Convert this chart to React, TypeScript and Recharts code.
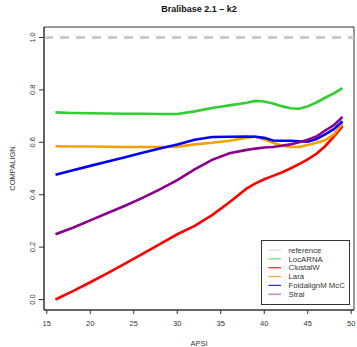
import React from "react";
import {
  Label,
  Line,
  LineChart,
  ReferenceArea,
  ReferenceLine,
  XAxis,
  YAxis,
} from "recharts";

const APSI = [16, 18, 20, 22, 24, 26, 28, 30, 32, 34, 36, 38, 39, 40, 41, 42, 43, 44, 45, 46, 47, 48, 49];

const LOCARNA = [0.714, 0.712, 0.711, 0.71, 0.709, 0.709, 0.708, 0.708, 0.718, 0.731, 0.741, 0.751, 0.758, 0.756, 0.748, 0.738, 0.73, 0.728, 0.737, 0.752, 0.77, 0.787, 0.807];
const CLUSTALW = [0.0, 0.032, 0.066, 0.101, 0.137, 0.174, 0.211, 0.249, 0.281, 0.322, 0.371, 0.424, 0.443, 0.459, 0.472, 0.485, 0.5, 0.517, 0.535, 0.556, 0.585, 0.622, 0.662];
const LARA = [0.585, 0.584, 0.584, 0.583, 0.582, 0.582, 0.582, 0.583, 0.592, 0.598, 0.606, 0.617, 0.622, 0.611, 0.598, 0.588, 0.582, 0.582, 0.59, 0.598, 0.608, 0.63, 0.672];
const FOLDALIGN = [0.476, 0.493, 0.51, 0.527, 0.543, 0.56, 0.576, 0.592, 0.61, 0.62, 0.621, 0.622, 0.621, 0.617, 0.607, 0.606, 0.606, 0.604, 0.602, 0.612, 0.63, 0.65, 0.68];
const STRAL = [0.249, 0.274, 0.302, 0.33, 0.358, 0.388, 0.42, 0.456, 0.497, 0.533, 0.558, 0.571, 0.576, 0.58, 0.582, 0.587, 0.592, 0.6, 0.61, 0.622, 0.645, 0.665, 0.697];

const X_TICKS = [15, 20, 25, 30, 35, 40, 45, 50];
const Y_TICKS = [0, 0.2, 0.4, 0.6, 0.8, 1.0];

const SERIES = [
  { key: "LocARNA", values: LOCARNA, color: "#33cc33" },
  { key: "ClustalW", values: CLUSTALW, color: "#ff0000" },
  { key: "Lara", values: LARA, color: "#f5a000" },
  { key: "FoldalignM McC", values: FOLDALIGN, color: "#0000ff" },
  { key: "Stral", values: STRAL, color: "#8b008b" },
];

const LEGEND_NAMES = ["reference", "LocARNA", "ClustalW", "Lara", "FoldalignM McC", "Stral"];
const LEGEND_COLORS = ["#d8d8d8", "#70dc70", "#ff3030", "#f2a830", "#3030ff", "#c078c8"];

// R-style 4% padding around the data range
const X_DOM: [number, number] = [14.68, 50.32];
const Y_DOM: [number, number] = [-0.04, 1.04];

const FONT = "'Liberation Sans', Arial, sans-serif";
const INK = "#333";

const data = APSI.map((x, i) => {
  const row: Record<string, number> = { apsi: x };
  SERIES.forEach((s) => (row[s.key] = s.values[i]));
  return row;
});

const YTick = (props: any) => {
  const { y, payload } = props;
  return (
    <text
      x={35}
      y={y}
      transform={`rotate(-90, 35, ${y})`}
      textAnchor="middle"
      fontSize={7.5}
      fill={INK}
    >
      {Number(payload.value).toFixed(1)}
    </text>
  );
};

const LegendBox = () => (
  <svg
    width={89}
    height={65}
    style={{ position: "absolute", left: 261, top: 240, display: "block" }}
  >
    <rect x={0.5} y={0.5} width={88} height={64} fill="#fff" stroke={INK} />
    {LEGEND_NAMES.map((name, i) => {
      const cy = 10 + i * 8.85;
      return (
        <g key={name}>
          <line x1={7.5} x2={20} y1={cy} y2={cy} stroke={LEGEND_COLORS[i]} strokeWidth={1.3} />
          <text x={27.5} y={cy + 2.7} fontSize={7.8} fill={INK} fontFamily={FONT}>
            {name}
          </text>
        </g>
      );
    })}
  </svg>
);

export default function App() {
  return (
    <div style={{ position: "absolute", left: 0, top: 0, width: 357, height: 347, fontFamily: FONT, background: "#fff" }}>
      <div
        style={{
          position: "absolute",
          left: 44,
          width: 310,
          top: 3,
          lineHeight: "12px",
          textAlign: "center",
          fontWeight: "bold",
          fontSize: 9,
          color: "#111",
        }}
      >
        Bralibase 2.1 – k2
      </div>
      <LineChart width={357} height={347} data={data} margin={{ top: 27, right: 3, bottom: 0, left: 0 }}>
        <XAxis
          dataKey="apsi"
          type="number"
          domain={X_DOM}
          ticks={X_TICKS}
          allowDataOverflow
          height={37}
          tickSize={4}
          tickMargin={7}
          tick={{ fontSize: 7.5, fill: INK }}
          stroke={INK}
        >
          <Label value="APSI" position="insideBottom" offset={1} fontSize={7.5} fill={INK} />
        </XAxis>
        <YAxis
          type="number"
          domain={Y_DOM}
          ticks={Y_TICKS}
          allowDataOverflow
          width={44}
          tickSize={5}
          tick={YTick}
          stroke={INK}
        >
          <Label
            content={(p: any) => {
              const cy = p.viewBox.y + p.viewBox.height / 2;
              return (
                <text x={15} y={cy} transform={`rotate(-90, 15, ${cy})`} textAnchor="middle" fontSize={7.5} fill={INK}>
                  COMPALIGN
                </text>
              );
            }}
          />
        </YAxis>
        <ReferenceLine y={1} stroke="#cccccc" strokeWidth={3} strokeDasharray="9 7" />
        {SERIES.map((s) => (
          <Line
            key={s.key}
            dataKey={s.key}
            type="linear"
            stroke={s.color}
            strokeWidth={2.6}
            dot={false}
            isAnimationActive={false}
          />
        ))}
        <ReferenceArea x1={X_DOM[0]} x2={X_DOM[1]} y1={Y_DOM[0]} y2={Y_DOM[1]} fill="none" stroke={INK} strokeWidth={1} />
      </LineChart>
      <LegendBox />
    </div>
  );
}
